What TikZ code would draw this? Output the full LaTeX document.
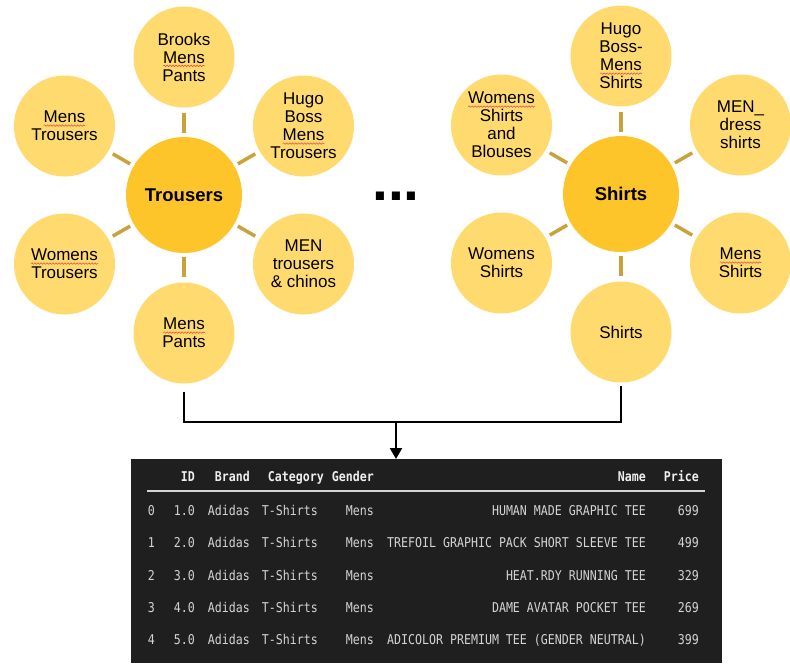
\documentclass[tikz,border=0pt]{standalone}
\usepackage{fontspec}
\setmainfont{Liberation Sans}
\newfontfamily\codefont[FakeStretch=0.86]{DejaVu Sans Mono}
\usetikzlibrary{arrows.meta,decorations.pathmorphing}
\definecolor{satfill}{HTML}{FFDA6F}
\definecolor{hubfill}{HTML}{FDC52A}
\definecolor{spokecol}{HTML}{C9A33A}
\definecolor{tblbg}{HTML}{1F1F1F}
\definecolor{tbltext}{HTML}{D4D4D4}
\definecolor{tblhead}{HTML}{EEEEEE}
\definecolor{squig}{HTML}{E04040}
\newcommand\sq[1]{\tikz[baseline=(sqw.base)]{\node[shape=rectangle, minimum size=0pt, minimum width=0pt, minimum height=0pt, inner sep=0pt, outer sep=0pt, fill=none] (sqw) {#1};
  \draw[squig, line width=0.45pt, decorate, decoration={snake, amplitude=0.8pt, segment length=3pt}]
    ([yshift=-2.8pt]sqw.base west) -- ([yshift=-2.8pt]sqw.base east);}}
\tikzset{
  sat/.style={circle, fill=satfill, minimum size=101pt, inner sep=0pt, align=center,
    font=\fontsize{17}{18}\selectfont},
  hub/.style={circle, fill=hubfill, minimum size=116pt, inner sep=0pt,
    font=\fontsize{18.5}{20}\selectfont\bfseries},
  spoke/.style={draw=spokecol, line width=3.5pt, shorten <=4pt, shorten >=5pt},
  bracket/.style={draw=black, line width=2.5pt},
  tblbox/.style={fill=tblbg, inner sep=0pt, minimum width=591pt, minimum height=204pt},
  cell/.style={inner sep=0pt, text height=10pt, text depth=0pt, text=tbltext,
    font=\codefont\fontsize{13.5}{14}\selectfont},
  headcell/.style={cell, text=tblhead, font=\codefont\fontsize{13.5}{14}\selectfont\bfseries},
}
\begin{document}
\begin{tikzpicture}[x=1pt,y=-1pt]
\useasboundingbox (0,0) rectangle (790,672);
\fill[white] (0,0) rectangle (790,672);

% ---- Trousers cluster
\node[hub] (th) at (184,195) {Trousers};
\node[sat] (t1) at (184,57) {Brooks\\\sq{Mens}\\Pants};
\node[sat] (t2) at (64.5,126) {\sq{Mens}\\Trousers};
\node[sat] (t3) at (303.5,126) {Hugo\\Boss\\\sq{Mens}\\Trousers};
\node[sat] (t4) at (64.5,264) {\sq{Womens}\\Trousers};
\node[sat] (t5) at (303.5,264) {MEN\\trousers\\\& chinos};
\node[sat] (t6) at (184,333) {\sq{Mens}\\Pants};
\foreach \s in {t1,t2,t3,t4,t5,t6} \draw[spoke] (th) -- (\s);

% ---- dots
\node[font=\fontsize{57}{57}\selectfont\bfseries, inner sep=0pt, anchor=base] (dots) at (396,200) {...};

% ---- Shirts cluster
\node[hub] (sh) at (621,194) {Shirts};
\node[sat] (s1) at (621,56) {Hugo\\Boss-\\\sq{Mens}\\Shirts};
\node[sat] (s2) at (501.5,125) {\sq{Womens}\\Shirts\\and\\Blouses};
\node[sat] (s3) at (740.5,125) {MEN\_\\dress\\shirts};
\node[sat] (s4) at (501.5,263) {Womens\\Shirts};
\node[sat] (s5) at (740.5,263) {\sq{Mens}\\Shirts};
\node[sat] (s6) at (621,332) {Shirts};
\foreach \s in {s1,s2,s3,s4,s5,s6} \draw[spoke] (sh) -- (\s);

% ---- table
\node[tblbox, anchor=north west] (tbl) at (131,459) {};
\coordinate (join) at (396,422);
\draw[bracket] ([yshift=-8pt]t6.south) |- (join) -| ([yshift=-3pt]s6.south);
\draw[bracket, -{Triangle[width=12pt,length=11pt]}] (join) -- (join |- tbl.north);

\node[headcell, anchor=east] (hID) at (195,476) {ID};
\node[headcell, anchor=east] (hBrand) at (250,476) {Brand};
\node[headcell, anchor=east] (hCat) at (324,476) {Category};
\node[headcell, anchor=east] (hGen) at (374,476) {Gender};
\node[headcell, anchor=east] (hName) at (646,476) {Name};
\node[headcell, anchor=east] (hPrice) at (699,476) {Price};
\draw[draw=tbltext, line width=1.3pt] (147,491) -- (705,491);

\foreach \i/\y/\id/\nm/\pr in {
  0/510/1.0/{HUMAN MADE GRAPHIC TEE}/699,
  1/542.5/2.0/{TREFOIL GRAPHIC PACK SHORT SLEEVE TEE}/499,
  2/575/3.0/{HEAT.RDY RUNNING TEE}/329,
  3/607/4.0/{DAME AVATAR POCKET TEE}/269,
  4/639/5.0/{ADICOLOR PREMIUM TEE (GENDER NEUTRAL)}/399}{
  \node[cell, anchor=east] (ix\i) at (155,\y) {\i};
  \node[cell, anchor=east] (id\i) at (195,\y) {\id};
  \node[cell, anchor=east] (br\i) at (250,\y) {Adidas};
  \node[cell, anchor=east] (ca\i) at (318,\y) {T-Shirts};
  \node[cell, anchor=east] (ge\i) at (374,\y) {Mens};
  \node[cell, anchor=east] (nm\i) at (646,\y) {\nm};
  \node[cell, anchor=east] (pr\i) at (699,\y) {\pr};
}
\end{tikzpicture}
\end{document}
